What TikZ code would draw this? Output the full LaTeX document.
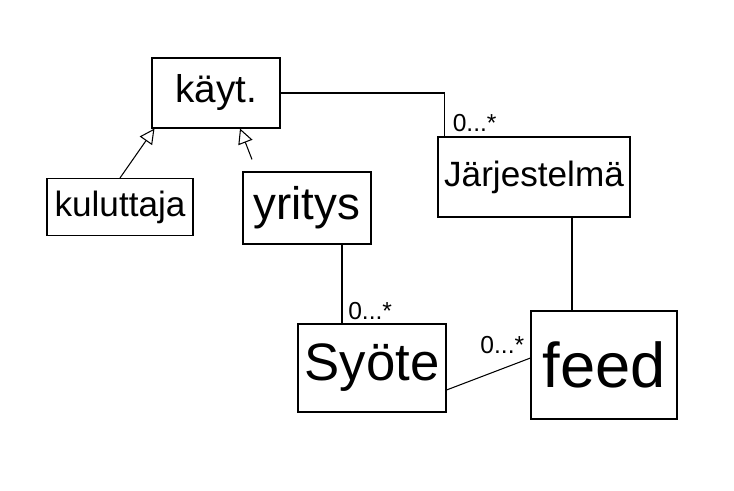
\documentclass[tikz,border=0pt]{standalone}
\usepackage{fontspec}
\setmainfont{Liberation Sans}
\usetikzlibrary{positioning,arrows.meta}

\begin{document}
\begin{tikzpicture}[
  >=Stealth,
  line width=0.6pt,
  classbox/.style={draw=black, inner sep=2pt, line width=0.6pt},
  assoc/.style={draw=black, line width=0.6pt},
  inherit/.style={-{Triangle[open, length=3mm, width=3mm]}, draw=black, line width=0.6pt},
  mult/.style={font=\fontsize{14}{16}\selectfont, inner sep=1pt}
]
  \useasboundingbox (0,0) rectangle (14.68,9.8);
  % classes
  \node[classbox, minimum width=2.56cm, minimum height=1.4cm, font=\fontsize{22}{26}\selectfont] (kayt) at (4.32,7.94) {käyt.};
  \node[classbox, minimum width=2.92cm, minimum height=1.14cm, font=\fontsize{20}{24}\selectfont] (kuluttaja) at (2.40,5.66) {kuluttaja};
  \node[classbox, minimum width=2.56cm, minimum height=1.44cm, font=\fontsize{26}{30}\selectfont] (yritys) at (6.14,5.64) {yritys};
  \node[classbox, minimum width=3.84cm, minimum height=1.6cm, font=\fontsize{20}{24}\selectfont] (jarj) at (10.68,6.26) {Järjestelmä};
  \node[classbox, minimum width=2.96cm, minimum height=1.76cm, font=\fontsize{30}{34}\selectfont] (syote) at (7.44,2.44) {Syöte};
  \node[classbox, minimum width=2.92cm, minimum height=2.16cm, font=\fontsize{36}{40}\selectfont] (feed) at (12.08,2.50) {feed};
  % inheritance
  \draw[inherit] (kuluttaja.north) -- ([xshift=0.06cm]kayt.south west);
  \draw[inherit] ([xshift=-1.1cm, yshift=0.24cm]yritys.north) -- ([xshift=0.48cm]kayt.south);
  % associations
  \draw[assoc] (kayt.east) -| ([xshift=0.14cm]jarj.north west) coordinate (jtop);
  \node[mult, anchor=south west] (m1) at ([xshift=0.12cm, yshift=0.05cm]jtop) {0...*};
  \draw[assoc] ([xshift=0.7cm]yritys.south) -- ([xshift=0.7cm]yritys.south |- syote.north) coordinate (stop);
  \node[mult, anchor=south west] (m2) at ([xshift=0.08cm, yshift=0.02cm]stop) {0...*};
  \draw[assoc] ([xshift=0.76cm]jarj.south) -- ([xshift=0.76cm]jarj.south |- feed.north);
  \draw[assoc] ([yshift=-0.44cm]syote.east) -- ([yshift=0.14cm]feed.west) coordinate (fleft);
  \node[mult, anchor=south east] (m3) at ([xshift=-0.08cm, yshift=0.04cm]fleft) {0...*};
\end{tikzpicture}
\end{document}
